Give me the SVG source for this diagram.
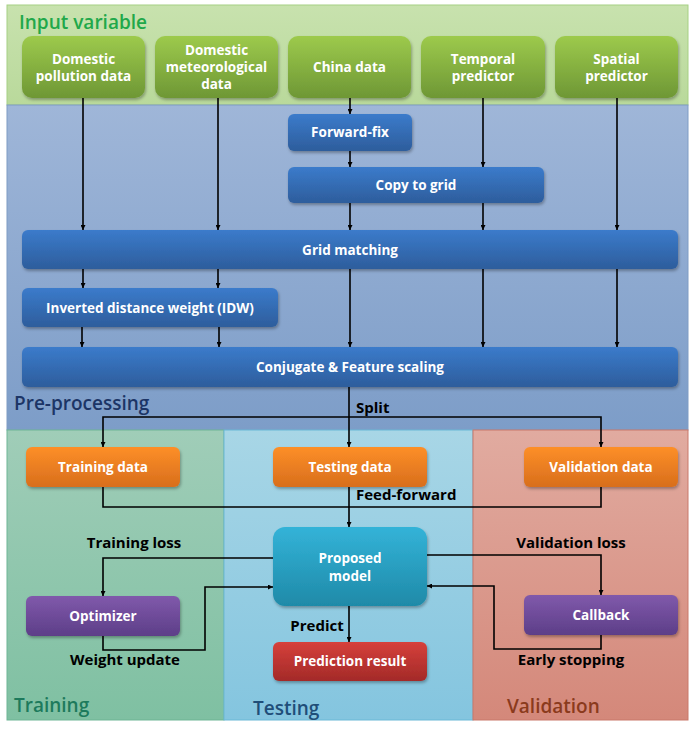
<svg xmlns="http://www.w3.org/2000/svg" width="690" height="735" viewBox="0 0 690 735">
<defs>
<linearGradient id="gIn" x1="0" y1="0" x2="0" y2="1"><stop offset="0" stop-color="#c8e2ae"/><stop offset="1" stop-color="#b9d99b"/></linearGradient>
<linearGradient id="gPre" x1="0" y1="0" x2="0" y2="1"><stop offset="0" stop-color="#9fb6d8"/><stop offset="1" stop-color="#7d9dc8"/></linearGradient>
<linearGradient id="gTr" x1="0" y1="0" x2="0" y2="1"><stop offset="0" stop-color="#a0cdb8"/><stop offset="1" stop-color="#7fc0a2"/></linearGradient>
<linearGradient id="gTe" x1="0" y1="0" x2="0" y2="1"><stop offset="0" stop-color="#a8d6e6"/><stop offset="1" stop-color="#84c5df"/></linearGradient>
<linearGradient id="gVa" x1="0" y1="0" x2="0" y2="1"><stop offset="0" stop-color="#e1aba0"/><stop offset="1" stop-color="#d4887a"/></linearGradient>
<linearGradient id="nGreen" x1="0" y1="0" x2="0" y2="1"><stop offset="0" stop-color="#9dca4c"/><stop offset="1" stop-color="#6e9735"/></linearGradient>
<linearGradient id="nBlue" x1="0" y1="0" x2="0" y2="1"><stop offset="0" stop-color="#3b7bcb"/><stop offset="1" stop-color="#2d5d9c"/></linearGradient>
<linearGradient id="nOrange" x1="0" y1="0" x2="0" y2="1"><stop offset="0" stop-color="#fd8f28"/><stop offset="1" stop-color="#d86e1c"/></linearGradient>
<linearGradient id="nCyan" x1="0" y1="0" x2="0" y2="1"><stop offset="0" stop-color="#33b3d8"/><stop offset="1" stop-color="#1f8aa8"/></linearGradient>
<linearGradient id="nPurple" x1="0" y1="0" x2="0" y2="1"><stop offset="0" stop-color="#8059ab"/><stop offset="1" stop-color="#5d3e88"/></linearGradient>
<linearGradient id="nRed" x1="0" y1="0" x2="0" y2="1"><stop offset="0" stop-color="#d6403b"/><stop offset="1" stop-color="#a32a28"/></linearGradient>
<filter id="sh" x="-10%" y="-10%" width="120%" height="130%"><feDropShadow dx="1" dy="2" stdDeviation="1.5" flood-color="#000" flood-opacity="0.3"/></filter>
<marker id="ah" viewBox="0 0 10 10" refX="10" refY="5" markerWidth="5" markerHeight="5" orient="auto" markerUnits="userSpaceOnUse"><path d="M0,0 L10,5 L0,10 z" fill="#000"/></marker>
</defs>
<style>
.nt{font-family:"Open Sans","Noto Sans",sans-serif;font-weight:bold;font-size:13.5px;fill:#fff;text-anchor:middle}
.lb{font-family:"Open Sans","Noto Sans",sans-serif;font-weight:bold;font-size:15px;fill:#000}
.sec{font-family:"Open Sans","Noto Sans",sans-serif;font-weight:600;font-size:19px}
.cn{fill:none;stroke:#000;stroke-width:1.6;marker-end:url(#ah)}
.cp{fill:none;stroke:#000;stroke-width:1.6}
</style>
<rect width="690" height="735" fill="#fff"/>
<g id="regions">
<rect x="7" y="5" width="681" height="100" fill="url(#gIn)" stroke="#a6d083" stroke-width="1"/>
<rect x="7" y="105" width="681" height="325" fill="url(#gPre)" stroke="#7f9cc4" stroke-width="1"/>
<rect x="7" y="430" width="217" height="290" fill="url(#gTr)" stroke="#6fb595" stroke-width="1"/>
<rect x="224" y="430" width="249" height="290" fill="url(#gTe)" stroke="#6ab8d6" stroke-width="1"/>
<rect x="473" y="430" width="215" height="290" fill="url(#gVa)" stroke="#c9786a" stroke-width="1"/>
<text x="19" y="29" class="sec" fill="#21a84a">Input variable</text>
<text x="14" y="410" class="sec" fill="#1c3566">Pre-processing</text>
<text x="14" y="712" class="sec" fill="#1d7a5c">Training</text>
<text x="253" y="715" class="sec" fill="#1f4e79">Testing</text>
<text x="507" y="713" class="sec" fill="#8b3a1c">Validation</text>
</g>
<g id="connectors">
<path class="cn" d="M83,98 V230"/>
<path class="cn" d="M218,98 V230"/>
<path class="cn" d="M83,269 V288"/>
<path class="cn" d="M218,269 V288"/>
<path class="cn" d="M82,327 V347"/>
<path class="cn" d="M219,327 V347"/>
<path class="cn" d="M350,98 V114"/>
<path class="cn" d="M350,151 V167"/>
<path class="cn" d="M350,203 V230"/>
<path class="cn" d="M350,269 V347"/>
<path class="cn" d="M483,98 V167"/>
<path class="cn" d="M483,203 V230"/>
<path class="cn" d="M483,269 V347"/>
<path class="cn" d="M617,98 V230"/>
<path class="cn" d="M617,269 V347"/>
<path class="cn" d="M349,387 V447"/>
<path class="cn" d="M349,417 H103 V447"/>
<path class="cn" d="M349,417 H601 V447"/>
<path class="cp" d="M103,487 V507 H601 V487"/>
<path class="cn" d="M349,487 V527"/>
<path class="cn" d="M273,558 H103 V596"/>
<path class="cn" d="M103,636 V650 H205 V587 H273"/>
<path class="cn" d="M349,606 V642"/>
<path class="cn" d="M427,555 H601 V595"/>
<path class="cn" d="M601,635 V649 H494 V586 H427"/>
<text x="356" y="413" class="lb">Split</text>
<text x="356" y="500" class="lb">Feed-forward</text>
<text x="134" y="548" class="lb" text-anchor="middle">Training loss</text>
<text x="125" y="665" class="lb" text-anchor="middle">Weight update</text>
<text x="317" y="631" class="lb" text-anchor="middle">Predict</text>
<text x="571" y="548" class="lb" text-anchor="middle">Validation loss</text>
<text x="571" y="665" class="lb" text-anchor="middle">Early stopping</text>
</g>
<g id="n-pollution"><rect x="22" y="36" width="123" height="62" rx="10" fill="url(#nGreen)" filter="url(#sh)"/><text class="nt" x="83.5" y="64">Domestic</text><text class="nt" x="83.5" y="81">pollution data</text></g>
<g id="n-meteo"><rect x="155" y="36" width="123" height="62" rx="10" fill="url(#nGreen)" filter="url(#sh)"/><text class="nt" x="216.5" y="55">Domestic</text><text class="nt" x="216.5" y="72">meteorological</text><text class="nt" x="216.5" y="89">data</text></g>
<g id="n-china"><rect x="288" y="36" width="123" height="62" rx="10" fill="url(#nGreen)" filter="url(#sh)"/><text class="nt" x="349.5" y="72">China data</text></g>
<g id="n-temporal"><rect x="421" y="36" width="124" height="62" rx="10" fill="url(#nGreen)" filter="url(#sh)"/><text class="nt" x="483" y="64">Temporal</text><text class="nt" x="483" y="81">predictor</text></g>
<g id="n-spatial"><rect x="555" y="36" width="123" height="62" rx="10" fill="url(#nGreen)" filter="url(#sh)"/><text class="nt" x="616.5" y="64">Spatial</text><text class="nt" x="616.5" y="81">predictor</text></g>
<g id="n-forwardfix"><rect x="288" y="114" width="124" height="37" rx="6" fill="url(#nBlue)" filter="url(#sh)"/><text class="nt" x="350" y="137">Forward-fix</text></g>
<g id="n-copygrid"><rect x="288" y="167" width="256" height="36" rx="6" fill="url(#nBlue)" filter="url(#sh)"/><text class="nt" x="416" y="190">Copy to grid</text></g>
<g id="n-gridmatch"><rect x="22" y="230" width="656" height="39" rx="6" fill="url(#nBlue)" filter="url(#sh)"/><text class="nt" x="350" y="255">Grid matching</text></g>
<g id="n-idw"><rect x="22" y="288" width="256" height="39" rx="6" fill="url(#nBlue)" filter="url(#sh)"/><text class="nt" x="150" y="313">Inverted distance weight (IDW)</text></g>
<g id="n-conjugate"><rect x="22" y="347" width="656" height="40" rx="6" fill="url(#nBlue)" filter="url(#sh)"/><text class="nt" x="350" y="372">Conjugate &amp; Feature scaling</text></g>
<g id="n-training"><rect x="26" y="447" width="154" height="40" rx="6" fill="url(#nOrange)" filter="url(#sh)"/><text class="nt" x="103" y="472">Training data</text></g>
<g id="n-testing"><rect x="273" y="447" width="154" height="40" rx="6" fill="url(#nOrange)" filter="url(#sh)"/><text class="nt" x="350" y="472">Testing data</text></g>
<g id="n-validation"><rect x="524" y="447" width="154" height="40" rx="6" fill="url(#nOrange)" filter="url(#sh)"/><text class="nt" x="601" y="472">Validation data</text></g>
<g id="n-model"><rect x="273" y="527" width="154" height="79" rx="12" fill="url(#nCyan)" filter="url(#sh)"/><text class="nt" x="350" y="563">Proposed</text><text class="nt" x="350" y="581">model</text></g>
<g id="n-optimizer"><rect x="26" y="596" width="154" height="40" rx="6" fill="url(#nPurple)" filter="url(#sh)"/><text class="nt" x="103" y="621">Optimizer</text></g>
<g id="n-callback"><rect x="524" y="595" width="154" height="40" rx="6" fill="url(#nPurple)" filter="url(#sh)"/><text class="nt" x="601" y="620">Callback</text></g>
<g id="n-result"><rect x="273" y="642" width="154" height="39" rx="6" fill="url(#nRed)" filter="url(#sh)"/><text class="nt" x="350" y="666">Prediction result</text></g>
</svg>
